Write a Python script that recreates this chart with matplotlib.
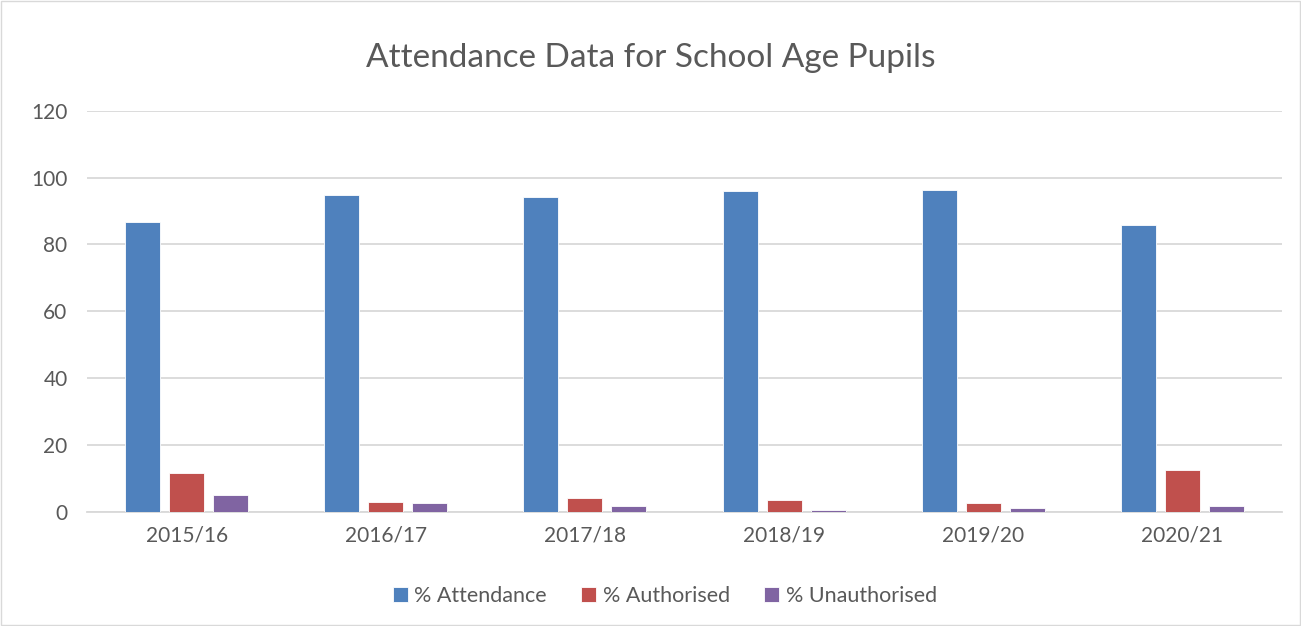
import numpy as np
import matplotlib.pyplot as plt

plt.rcParams['font.family'] = ['Lato', 'DejaVu Sans']

# School years and the three series (percent)
years = ["2015/16", "2016/17", "2017/18", "2018/19", "2019/20", "2020/21"]
attendance = [86.6, 94.7, 94.1, 96.1, 96.3, 85.9]
authorised = [11.4, 2.9, 3.9, 3.4, 2.4, 12.4]
unauthorised = [4.9, 2.4, 1.7, 0.5, 1.1, 1.6]

series = [
    ("% Attendance", attendance, "#4f81bd"),
    ("% Authorised", authorised, "#c0504d"),
    ("% Unauthorised", unauthorised, "#8064a2"),
]

text_color = "#595959"

fig = plt.figure(figsize=(13.01, 6.26), dpi=100)
ax = fig.add_axes([0.0669, 0.1829, 0.9185, 0.6398])

x = np.arange(len(years))
step = 0.221
width = 0.176
for i, (label, vals, color) in enumerate(series):
    ax.bar(x + (i - 1) * step, vals, width, color=color, label=label,
           edgecolor="white", linewidth=0.6, zorder=3)

ax.set_xlim(-0.5, len(years) - 0.5)
ax.set_ylim(0, 120)
ax.set_yticks(range(0, 121, 20))
ax.set_xticks(x)
ax.set_xticklabels(years)
ax.grid(axis="y", color="#d9d9d9", linewidth=1.3, zorder=0)
ax.tick_params(axis="both", length=0, labelsize=15, colors=text_color, pad=10)
ax.tick_params(axis="y", pad=14)
for s in ["top", "right", "left"]:
    ax.spines[s].set_visible(False)
ax.spines["bottom"].set_color("#d9d9d9")
ax.spines["bottom"].set_linewidth(1.3)

fig.text(0.5, 0.908, "Attendance Data for School Age Pupils", ha="center",
         va="center", fontsize=24, color=text_color)

leg = fig.legend(loc="center", bbox_to_anchor=(0.511, 0.048), ncol=3,
                 frameon=False, fontsize=15.5, handlelength=0.7,
                 handleheight=0.7, handletextpad=0.3, columnspacing=1.6,
                 labelcolor=text_color)

# light border around the chart area
fig.patches.append(plt.Rectangle((0.001, 0.001), 0.998, 0.998,
                                 transform=fig.transFigure, fill=False,
                                 edgecolor="#d9d9d9", linewidth=1))

fig.savefig("out.png", dpi=100)
